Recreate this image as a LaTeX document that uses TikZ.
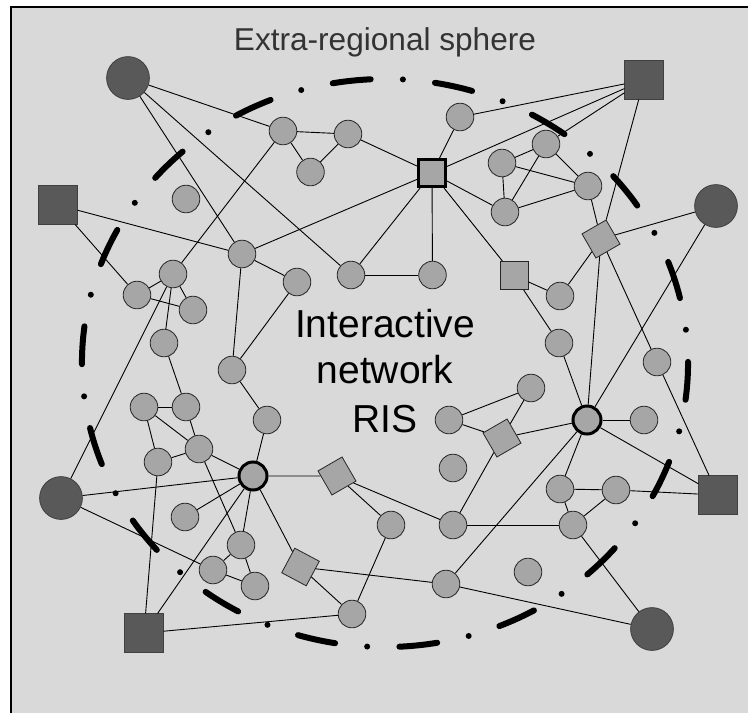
\documentclass[tikz,border=0pt]{standalone}
\usepackage{fontspec}
\setmainfont{Liberation Sans}
\definecolor{framebg}{HTML}{D9D9D9}
\definecolor{nodegray}{HTML}{A6A6A6}
\definecolor{nodedark}{HTML}{595959}
\definecolor{titlegray}{HTML}{333333}
\begin{document}
\begin{tikzpicture}[x=1pt,y=-1pt,
  gc/.style={circle,draw=black!85,line width=0.8pt,fill=nodegray,minimum size=27.6pt,inner sep=0pt},
  dc/.style={circle,draw=black!75,line width=0.8pt,fill=nodedark,minimum size=42.8pt,inner sep=0pt},
  dsq/.style={rectangle,draw=black!75,line width=0.8pt,fill=nodedark,minimum size=38.3pt,inner sep=0pt},
  hubsq/.style={rectangle,draw=black,line width=3pt,fill=nodegray,minimum size=27pt,inner sep=0pt},
  hubring/.style={circle,draw=black,line width=3pt,fill=nodegray,minimum size=28pt,inner sep=0pt},
  gsq/.style={rectangle,draw=black!85,line width=0.8pt,fill=nodegray,minimum size=28.2pt,inner sep=0pt},
  dia/.style={rectangle,draw=black!85,line width=0.8pt,fill=nodegray,minimum size=27.8pt,inner sep=0pt,rotate=30},
  link/.style={draw=black,line width=0.9pt},
  orbit/.style={line width=6pt,line cap=round,dash pattern=on 38pt off 32.24pt on 0pt off 32.24pt}
]
\useasboundingbox (0,0) rectangle (748,713);
\fill[white] (0,0) rectangle (748,713);
\clip (0,0) rectangle (748,713);
\draw[fill=framebg,line width=2pt] (11,7) rectangle (770,730);

% title and centre text
\node[anchor=base,text=titlegray,font=\fontsize{31.6}{38}\selectfont] (title) at (385,50) {Extra-regional sphere};
\node[anchor=base,font=\fontsize{39}{47}\selectfont] (t1) at (385,337) {Interactive};
\node[anchor=base,font=\fontsize{39}{47}\selectfont] (t2) at (385,383) {network};
\node[anchor=base,font=\fontsize{39}{47}\selectfont] (t3) at (385,432) {RIS};

% dash-dot boundary of the region
\draw[orbit] (385,363) ++(99.9:303pt and 284pt) arc[start angle=99.9,end angle=-260.1,x radius=303pt,y radius=284pt];

% extra-regional actors
\node[dc] (D1) at (128,78) {};
\node[dc] (D2) at (716,206) {};
\node[dc] (D3) at (61,498) {};
\node[dc] (D4) at (652,629) {};
\node[dsq] (S1) at (58,205) {};
\node[dsq] (S2) at (644,80) {};
\node[dsq] (S3) at (718,495) {};
\node[dsq] (S4) at (144,633) {};

% hubs
\node[hubsq] (H) at (432,173) {};
\node[hubring] (R1) at (587,420) {};
\node[hubring] (R2) at (253,476) {};
\node[gsq] (L) at (514,275.5) {};
\node[dia] (K) at (601,239) {};
\node[dia] (V) at (502,438) {};
\node[dia] (AP) at (337,476) {};
\node[dia,rotate=-58] (AN) at (300.5,567) {};

% regional actors
\node[gc] (A) at (283,131) {};
\node[gc] (B) at (348,134) {};
\node[gc] (C) at (310.5,172) {};
\node[gc] (E) at (186,199) {};
\node[gc] (F) at (460,117) {};
\node[gc] (G) at (502,163) {};
\node[gc] (Hc) at (546,144) {};
\node[gc] (I) at (588,186) {};
\node[gc] (J) at (505,212) {};
\node[gc] (M) at (560,296) {};
\node[gc] (N) at (432.5,275) {};
\node[gc] (O) at (559,343) {};
\node[gc] (P) at (657,362) {};
\node[gc] (Q) at (644,420) {};
\node[gc] (T) at (531,388) {};
\node[gc] (U) at (449,420) {};
\node[gc] (W) at (242,254) {};
\node[gc] (X) at (173,274) {};
\node[gc] (Y) at (137,295) {};
\node[gc] (Z) at (193,310) {};
\node[gc] (AA) at (164,343) {};
\node[gc] (AB) at (297,282) {};
\node[gc] (AC) at (351,275) {};
\node[gc] (AD) at (232,370) {};
\node[gc] (AE) at (267,420) {};
\node[gc] (AF) at (144,407) {};
\node[gc] (AG) at (186,407) {};
\node[gc] (AH) at (199,449) {};
\node[gc] (AI) at (158,462) {};
\node[gc] (AJ) at (185,517) {};
\node[gc] (AK) at (241,545) {};
\node[gc] (AL) at (213,570) {};
\node[gc] (AM) at (255,586) {};
\node[gc] (AQ) at (352,614) {};
\node[gc] (AR) at (391,525) {};
\node[gc] (AS) at (453,525) {};
\node[gc] (AT) at (446,584) {};
\node[gc] (AU) at (453,468) {};
\node[gc] (AV) at (528,572) {};
\node[gc] (AY) at (573,525) {};
\node[gc] (AZ) at (560,489) {};
\node[gc] (BA) at (616,490) {};

% links
\foreach \a/\b in {D1/A, D1/W, D1/AC, A/B, A/C, B/C, B/H, A/X, F/S2, F/H, H/S2, Hc/S2,
  H/W, H/AC, H/N, H/J, H/L, AC/N, G/Hc, G/I, G/J, Hc/J, Hc/I, J/I, I/K, S2/K, K/D2, K/M,
  K/R1, K/P, L/M, L/O, O/R1, D2/R1, P/S3, R1/Q, R1/V, R1/S3, R1/AT, R1/AZ, U/T, U/V, T/V,
  V/AS, S1/Y, S1/W, X/Y, X/Z, Y/Z, X/AA, X/D3, W/AB, W/AD, AB/AD, AD/AE, AE/R2, AA/AG,
  AF/AG, AF/AI, AF/AH, AG/AH, AH/AI, AH/R2, AH/AK, AI/S4, R2/D3, R2/AJ, R2/AK, R2/S4,
  R2/AN, R2/AP, AK/AL, AL/AM, AK/AM, D3/AL, S4/AQ, AN/AQ, AN/AT, AP/AS, AP/AR, AR/AQ,
  AS/AY, AZ/AY, AZ/BA, BA/AY, BA/S3, AY/D4, AT/D4}
  \draw[link] (\a) -- (\b);
\end{tikzpicture}
\end{document}
